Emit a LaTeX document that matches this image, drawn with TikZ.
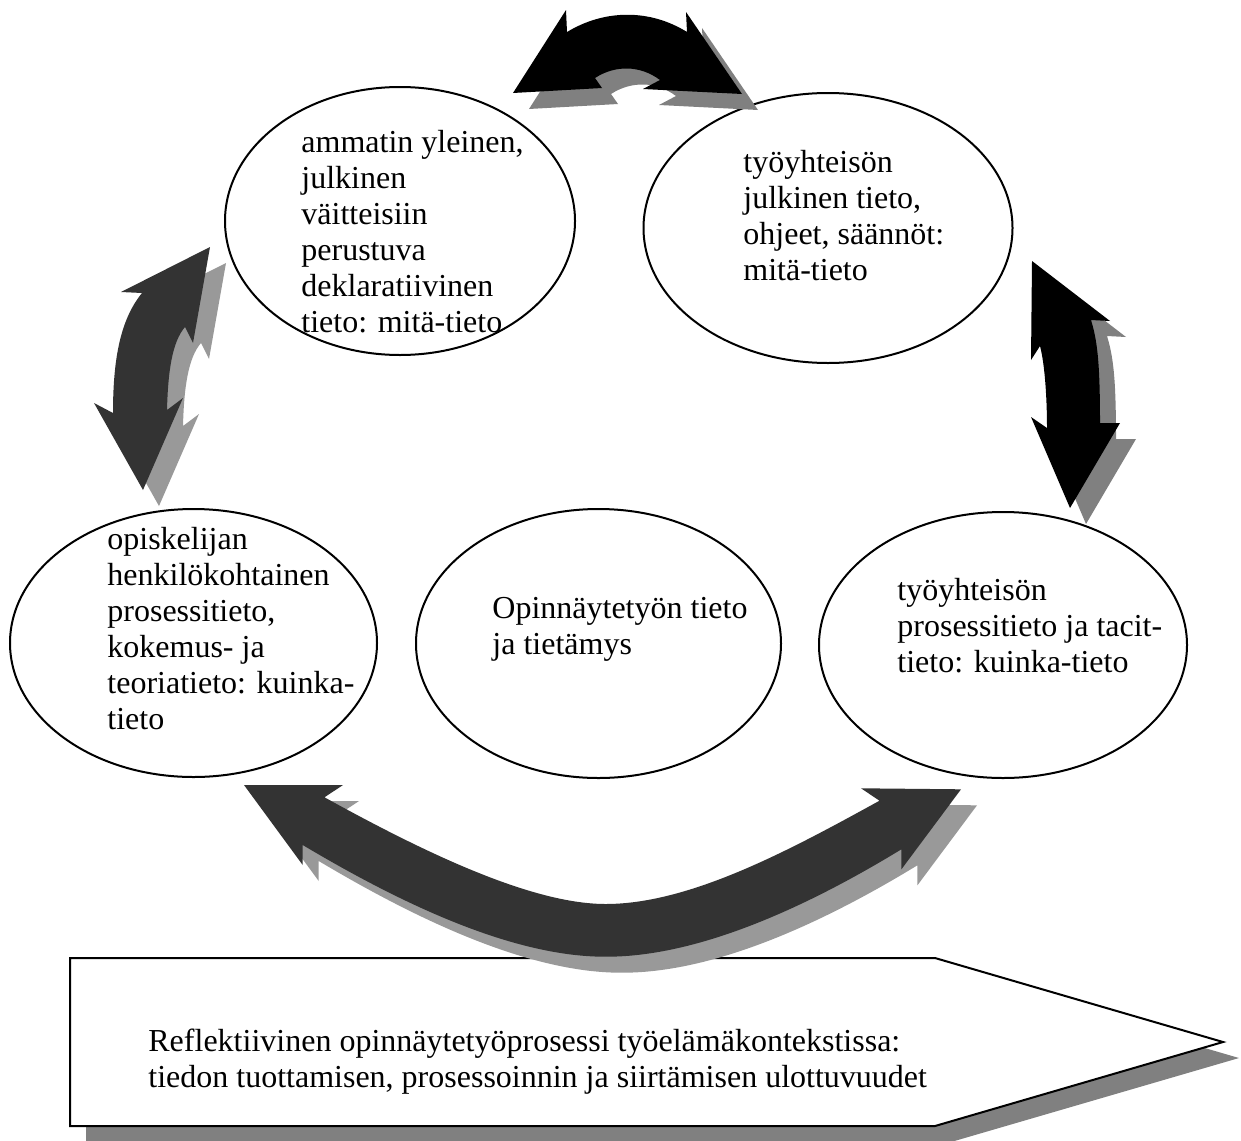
\documentclass[tikz,border=0pt]{standalone}
\usepackage{fontspec}
\setmainfont{Liberation Serif}
\usetikzlibrary{shapes.geometric}
\definecolor{arrowdark}{HTML}{333333}
\definecolor{shadowlight}{HTML}{999999}
\definecolor{shadowmid}{HTML}{808080}
% left-aligned lines whose reference point is the first baseline
\newcommand\stackedlines[1]{\begin{tabular}[t]{@{}l@{}}#1\end{tabular}}
\begin{document}
\begin{tikzpicture}[x=0.5pt,y=-0.5pt,
  bubble/.style={ellipse, draw=black, line width=1pt, fill=white, inner sep=0pt},
  bubbletext/.style={anchor=base west, inner sep=0pt,
    font=\fontsize{16}{18}\selectfont},
  dropshift/.style={shift={(16,16)}},
  % curved double-headed block arrows
  toparrowshape/.style={insert path={(513,93) -- (566,10) -- (567,32)
    .. controls (605,9) and (650,9) .. (687,32) -- (686,12) -- (742,94)
    -- (643,89) -- (660,80) .. controls (640,65) and (615,65) .. (595,78)
    -- (602,88) -- cycle}},
  leftarrowshape/.style={insert path={(210,247) -- (193,343) -- (185,327)
    .. controls (172,342) and (168,372) .. (167,410) -- (183,398) -- (143,490)
    -- (94,403) -- (113,413) .. controls (113,360) and (120,320) .. (142,293)
    -- (121,292) -- cycle}},
  rightarrowshape/.style={insert path={(1032,261) -- (1110,321) -- (1091,320)
    .. controls (1097,340) and (1100,360) .. (1100,423) -- (1120,423)
    -- (1070,508) -- (1031,417) -- (1047,428)
    .. controls (1047,400) and (1045,365) .. (1040,346) -- (1031,360) -- cycle}},
  bottomarrowshape/.style={insert path={(244,785) -- (343,785) -- (324.5,797.3)
    .. controls (420,850) and (530,904) .. (605.7,904)
    .. controls (690,904) and (790,850) .. (879.5,800.7)
    -- (861,788.3) -- (961,789.3) -- (901.4,869.3) -- (901.4,849.3)
    .. controls (810,905) and (700,957) .. (605.7,956.7)
    .. controls (510,957) and (395,900) .. (302.7,845) -- (302.7,865) -- cycle}},
  bannershape/.style={insert path={(70,958) -- (935,958) -- (1223,1042)
    -- (935,1126) -- (70,1126) -- cycle}}
]
\useasboundingbox (0,0) rectangle (1241,1140);

% banner at the bottom
\fill[shadowmid, dropshift, bannershape];
\draw[line width=1pt, fill=white, bannershape];
\node[bubbletext] (bannertext) at (148,1051)
  {\stackedlines{Reflektiivinen opinnäytetyöprosessi työelämäkontekstissa:\\
   tiedon tuottamisen, prosessoinnin ja siirtämisen ulottuvuudet}};

% knowledge bubbles
\node[bubble, minimum width=175pt, minimum height=134pt] (general) at (400,221) {};
\node[bubble, minimum width=184.5pt, minimum height=135pt] (community) at (828,228) {};
\node[bubble, minimum width=183.5pt, minimum height=134pt] (student) at (193.5,643) {};
\node[bubble, minimum width=182.5pt, minimum height=134.5pt] (thesis) at (598.5,643.5) {};
\node[bubble, minimum width=184pt, minimum height=133pt] (tacit) at (1003,645) {};

\node[bubbletext] (generaltext) at (301,152)
  {\stackedlines{ammatin yleinen,\\ julkinen\\ väitteisiin\\ perustuva\\ deklaratiivinen\\ tieto: mitä-tieto}};
\node[bubbletext] (communitytext) at (743,172)
  {\stackedlines{työyhteisön\\ julkinen tieto,\\ ohjeet, säännöt:\\ mitä-tieto}};
\node[bubbletext] (studenttext) at (107,549)
  {\stackedlines{opiskelijan\\ henkilökohtainen\\ prosessitieto,\\ kokemus- ja\\ teoriatieto: kuinka-\\ tieto}};
\node[bubbletext] (thesistext) at (492,618)
  {\stackedlines{Opinnäytetyön tieto\\ ja tietämys}};
\node[bubbletext] (tacittext) at (897,600)
  {\stackedlines{työyhteisön\\ prosessitieto ja tacit-\\ tieto: kuinka-tieto}};

% arrows with drop shadows
\fill[shadowmid, dropshift, toparrowshape];
\fill[black, toparrowshape];
\fill[shadowlight, dropshift, leftarrowshape];
\fill[arrowdark, leftarrowshape];
\fill[shadowmid, dropshift, rightarrowshape];
\fill[black, rightarrowshape];
\fill[shadowlight, dropshift, bottomarrowshape];
\fill[arrowdark, bottomarrowshape];
\end{tikzpicture}
\end{document}
